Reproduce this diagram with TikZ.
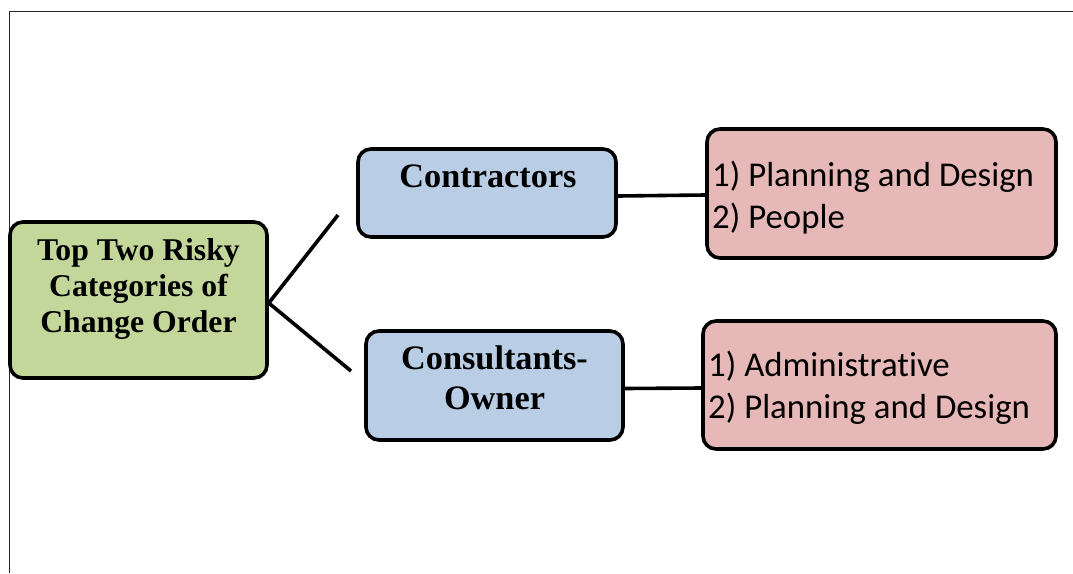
\documentclass[tikz,border=0pt]{standalone}
\usepackage{fontspec}
\setmainfont{Liberation Serif}
\newfontfamily\listfont[Ligatures=NoCommon]{Carlito}
\definecolor{rootfill}{HTML}{C4D79B}
\definecolor{groupfill}{HTML}{B9CDE5}
\definecolor{itemfill}{HTML}{E6B8B7}
\begin{document}
\begin{tikzpicture}[x=1pt,y=-1pt,
  box/.style={draw=black,line width=3.6pt,rounded corners=13pt,inner sep=0pt},
  rootbox/.style={box,fill=rootfill},
  groupbox/.style={box,fill=groupfill},
  itembox/.style={box,fill=itemfill},
  headtext/.style={font=\bfseries\fontsize{31.7}{36}\selectfont,align=center},
  grouptext/.style={font=\bfseries\fontsize{34.3}{40}\selectfont,align=center},
  itemtext/.style={font=\listfont\fontsize{34.8}{41.5}\selectfont,align=left,anchor=west,inner sep=0pt},
  link/.style={line width=3.6pt}]
\useasboundingbox (0,0) rectangle (1073,573);
% frame edges
\draw[line width=1.8pt,black!85] (1073,11.5) -- (9.5,11.5) -- (9.5,573);
% boxes
\node[rootbox,minimum width=257pt,minimum height=156pt] (root) at (138.5,300) {};
\node[headtext] (roottext) at (138.5,288.5) {Top Two Risky\\Categories of\\Change Order};
\node[groupbox,minimum width=258pt,minimum height=88pt] (contr) at (487,193) {};
\node[grouptext] (contrtext) at (488,176) {Contractors};
\node[groupbox,minimum width=257pt,minimum height=109pt] (cons) at (494.5,385.5) {};
\node[grouptext] (constext) at (494.5,378) {Consultants-\\Owner};
\node[itembox,minimum width=349pt,minimum height=129pt] (itemA) at (881.5,193.5) {};
\node[itemtext] (itemAtext) at (712,197.5) {1) Planning and Design\\2) People};
\node[itembox,minimum width=353pt,minimum height=128pt] (itemB) at (879.5,385) {};
\node[itemtext] (itemBtext) at (708,388) {1) Administrative\\2) Planning and Design};
% connectors
\coordinate (upEnd) at (338,215);
\coordinate (downEnd) at (351,371);
\draw[link] (upEnd) -- ([yshift=-3pt]root.east) -- (downEnd);
\draw[link] ([yshift=-3pt]contr.east) -- ([yshift=-1.5pt]itemA.west);
\draw[link] ([yshift=-3pt]cons.east) -- ([yshift=-3pt]itemB.west);
\end{tikzpicture}
\end{document}
